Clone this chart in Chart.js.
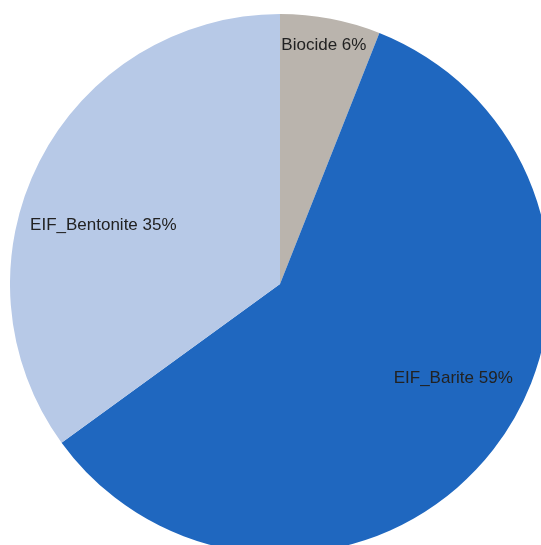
<!DOCTYPE html>
<html>
<head>
<meta charset="utf-8">
<script src="https://cdn.jsdelivr.net/npm/chart.js@4/dist/chart.umd.min.js"></script>
<style>
  html, body { margin: 0; padding: 0; background: #fff; overflow: hidden; }
  body { width: 541px; height: 545px; position: relative; }
  /* the pie runs off the right and bottom edges, so the canvas is bigger than the page */
  #wrap { position: absolute; left: 10px; top: 14px; width: 540px; height: 540px; }
</style>
</head>
<body>
<div id="wrap"><canvas id="pie" width="540" height="540"></canvas></div>
<script>
const labels = ["Biocide", "EIF_Barite", "EIF_Bentonite"];
const values = [6, 59, 35];
const colors = ["#bab4ad", "#1f67bf", "#b7c9e7"];

// where each label sits: fraction of radius and angle tweak (degrees) from slice middle
const labelSpots = [
  { frac: 0.9, turn: -0.4 },
  { frac: 0.73, turn: -9.3 },
  { frac: 0.69, turn: -8.5 },
];

const sliceLabels = {
  id: "sliceLabels",
  afterDatasetsDraw(chart) {
    const ctx = chart.ctx;
    const meta = chart.getDatasetMeta(0);
    ctx.save();
    ctx.font = "17px 'Liberation Sans', Arial, sans-serif";
    ctx.fillStyle = "#222";
    ctx.textAlign = "center";
    ctx.textBaseline = "middle";
    meta.data.forEach((arc, i) => {
      const spot = labelSpots[i];
      const mid = (arc.startAngle + arc.endAngle) / 2 + (spot.turn * Math.PI) / 180;
      const r = arc.outerRadius * spot.frac;
      const x = arc.x + Math.cos(mid) * r;
      const y = arc.y + Math.sin(mid) * r;
      ctx.fillText(labels[i] + " " + values[i] + "%", x, y);
    });
    ctx.restore();
  },
};

new Chart(document.getElementById("pie").getContext("2d"), {
  type: "pie",
  data: {
    labels: labels,
    datasets: [
      {
        data: values,
        backgroundColor: colors,
        borderWidth: 0,
      },
    ],
  },
  options: {
    responsive: false,
    animation: false,
    layout: { padding: 0 },
    plugins: {
      legend: { display: false },
      tooltip: { enabled: false },
    },
  },
  plugins: [sliceLabels],
});
</script>
</body>
</html>
